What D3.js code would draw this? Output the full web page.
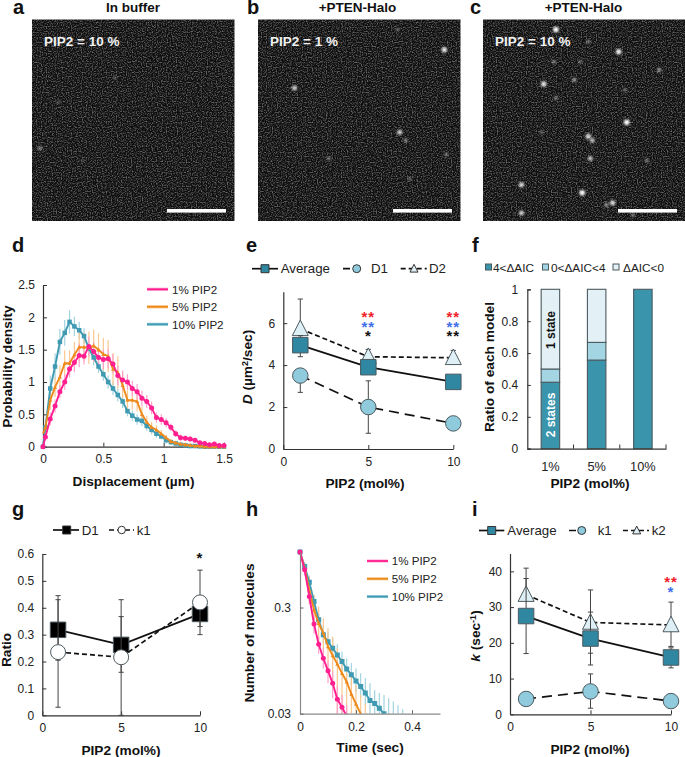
<!DOCTYPE html>
<html><head><meta charset="utf-8">
<script src="https://cdn.jsdelivr.net/npm/d3@7"></script>
<style>
html,body{margin:0;padding:0;background:#fff}
svg{display:block}
text{font-family:"Liberation Sans",Arial,sans-serif;fill:#222}
</style></head><body><div id="c"></div>
<script>
// ---------- data ----------
const percentLabels = ["1% PIP2","5% PIP2","10% PIP2"];
const pipX = [1,5,10];
const spotsA = [[4,64,.5],[41,29,.3],[13,41,.3],[25,70,.2]];
const spotsB = [[92,15,.9],[18,34,.8],[70,56,.8],[73,60,.45],[35,69,.45],[93,67,.45],[69,5,.35],[75,79,.35]];
const spotsC = [[36,5,1],[67,16,.95],[87,25,.55],[30,32,.9],[45,30,.55],[36,39,.45],[71,51,1],[52,58,.85],[54,60,.75],[53,69,.75],[70,35,.4],[19,82,.85],[49,86,1],[64,91,.85],[61,92,.55],[19,96,.8],[74,97,.45],[81,70,.45],[52,11,.45],[48,21,.4],[29,56,.35],[35,21,.45]];
// d
const dispX = [0,.02,.06,.10,.14,.18,.22,.26,.30,.34,.38,.42,.46,.50,.54,.58,.62,.66,.70,.74,.78,.82,.86,.90,.94,.98,1.02,1.06,1.10,1.14,1.18,1.22,1.26,1.30,1.34,1.38,1.42,1.46,1.50];
const disp1 = [0,.15,.43,.63,.85,1.0,1.2,1.3,1.41,1.4,1.55,1.47,1.38,1.35,1.36,1.28,1.1,1.03,1.0,.9,.85,.75,.7,.6,.45,.42,.37,.3,.2,.14,.13,.12,.1,.06,.05,.03,.04,.02,.02];
const disp5 = [.2,.3,.72,.92,1.08,1.29,1.29,1.42,1.54,1.54,1.53,1.56,1.5,1.43,1.4,1.2,1.15,.95,.72,.72,.7,.5,.38,.3,.26,.2,.14,.08,.06,.04,.03,.02,.01,.01,0,0,0,0,0];
const disp10 = [0,.3,.9,1.24,1.62,1.76,1.93,1.86,1.8,1.71,1.52,1.38,1.24,1.12,1.0,.9,.8,.7,.55,.48,.42,.4,.32,.26,.2,.16,.1,.07,.05,.03,.02,.01,.01,.005,0,0,0,0,0];
const disp1Err = [0,.05,.1,.1,.1,.12,.13,.15,.18,.13,.15,.15,.15,.15,.15,.15,.15,.15,.12,.12,.12,.12,.1,.1,.08,.08,.07,.06,.05,.05,.04,.04,.03,.03,.03,.03,.03,.02,.02];
const disp5Err = [0,.05,.15,.15,.18,.2,.2,.2,.22,.22,.25,.25,.25,.25,.25,.25,.25,.2,.15,.15,.15,.12,.1,.08,.07,.06,.05,.04,.03,.03,.02,.02,.01,.01,.01,0,0,0,0];
const disp10Err = [0,.05,.2,.2,.2,.2,.18,.15,.13,.12,.12,.12,.1,.1,.1,.1,.1,.1,.08,.08,.08,.08,.07,.07,.06,.05,.05,.04,.03,.03,.02,.02,.01,.01,0,0,0,0,0];
// e
const dAverage = [4.95,3.9,3.2], dAverageHi=[5.4,null,null], dAverageLo=[4.4,null,null];
const dD1 = [3.5,2.0,1.22], dD1Hi=[null,3.25,null], dD1Lo=[2.7,.75,null];
const dD2 = [5.73,4.4,4.35], dD2Hi=[7.15,4.75,4.7], dD2Lo=[null,null,null];
// f
const ratioCats = ["1%","5%","10%"];
const ratioDark = [.417,.556,1], ratioMid=[.083,.111,0], ratioLight=[.5,.333,0];
const ratioLegend = ["4<ΔAIC","0<ΔAIC<4","ΔAIC<0"];
// g
const gD1 = [.318,.262,.377], gD1Hi=[.445,.367,.42], gD1Lo=[.205,.16,.33];
const gK1 = [.235,.216,.42], gK1Hi=[.43,.43,.54], gK1Lo=[.03,0,.30];
// h
const frameTime = [0,.0167,.0333,.05,.0667,.0833,.1,.1167,.1333,.15,.1667,.1833,.2,.2167,.2333,.25,.2667,.2833,.3,.3167,.3333,.35,.3667];
const surv1 = [1,.68,.381,.21,.135,.10,.076,.058,.041,.0345,.0285];
const surv5 = [1,.705,.44,.285,.213,.172,.129,.106,.088,.072,.06,.046,.037,.03];
const surv10 = [1,.73,.52,.342,.23,.166,.143,.124,.107,.093,.079,.07,.061,.054,.047,.04,.0375,.0337,.03];
const surv1Hi = [1,.75,.45,.25,.16,.125,.095,.075,.055,.045,.036];
const surv1Lo = [1,.6,.32,.17,.11,.08,.058,.042,.03,.03,.03];
const surv5Hi = [1,.75,.588,.395,.306,.238,.191,.16,.124,.1,.083,.07,.056,.045,.0375];
const surv5Lo = [1,.66,.33,.21,.143,.107,.075,.052,.03,.03,.03,.03,.03,.03,.03];
const surv10Hi = [1,.8,.6,.39,.265,.2,.175,.155,.135,.115,.1,.09,.08,.072,.065,.058,.05,.047,.045,.042,.039,.036,.033];
const surv10Lo = [1,.66,.45,.3,.2,.14,.12,.1,.085,.075,.062,.055,.048,.042,.036,.03,.03,.03,.03,.03,.03,.03,.03];
// i
const kAverage = [27.5,21.2,15.9], kAverageHi=[38,28.6,18.6], kAverageLo=[17,17.1,13];
const kK1 = [4.3,6.4,3.7], kK1Hi=[null,11.3,null], kK1Lo=[null,1.7,null];
const kK2 = [33.5,25.7,25], kK2Hi=[40.9,34.8,31.4], kK2Lo=[null,13.8,19];

// ---------- colours ----------
const PINK="#ff1f8f", ORANGE="#ee8a1c", TEAL="#3f9ab2";
const PINKL="#ff9fcf", ORANGEL="#f9c88f", TEALL="#a0d2df";
const SQ="#2f87a1", CI="#8fcbdd", TR="#deeff5", MK="#4d5a60";
const FONT=12;

const svg=d3.select("#c").append("svg").attr("width",685).attr("height",757).attr("viewBox","0 0 685 757");
const defs=svg.append("defs");

function txt(x,y,s,o={}){
  const t=svg.append("text").attr("x",x).attr("y",y).text(s)
    .style("font-size",(o.size||FONT)+"px").style("font-weight",o.bold?"bold":"normal")
    .attr("text-anchor",o.anchor||"start").style("fill",o.fill||"#222");
  if(o.rot!=null) t.attr("transform",`rotate(${o.rot} ${x} ${y})`);
  return t;
}
const letters=[["a",13,14],["b",247,14],["c",470,14],["d",12,252],["e",246,252],["f",472,252],["g",12,516],["h",246,516],["i",472,516]];
letters.forEach(l=>txt(l[1],l[2],l[0],{size:20,bold:true,fill:"#111"}));

// ---------- microscopy panels ----------
const speck=defs.append("filter").attr("id","speck").attr("x",0).attr("y",0).attr("width","100%").attr("height","100%").attr("color-interpolation-filters","sRGB");
speck.append("feTurbulence").attr("type","fractalNoise").attr("baseFrequency",.8).attr("numOctaves",1).attr("seed",11).attr("result","n");
speck.append("feColorMatrix").attr("type","matrix").attr("values","0 0 0 0 1  0 0 0 0 1  0 0 0 0 1  3 0 0 0 -1.3");
speck.append("feGaussianBlur").attr("stdDeviation",.45);
const glow=defs.append("filter").attr("id","glow").attr("x","-100%").attr("y","-100%").attr("width","300%").attr("height","300%");
glow.append("feGaussianBlur").attr("stdDeviation",1.1);
function micro(x0,spots,title,label,tx){
  const sx=d3.scaleLinear().domain([0,100]).range([x0,x0+202.5]);
  const sy=d3.scaleLinear().domain([0,100]).range([19.5,221]);
  const g=svg.append("g");
  g.append("rect").attr("x",sx(0)).attr("y",sy(0)).attr("width",202.5).attr("height",201.5).attr("fill","#0e0e0e");
  g.append("rect").attr("x",sx(0)).attr("y",sy(0)).attr("width",202.5).attr("height",201.5).attr("fill","#000").attr("opacity",.38).attr("filter","url(#speck)");
  g.selectAll("circle").data(spots).join("circle").attr("cx",d=>sx(d[0])).attr("cy",d=>sy(d[1]))
    .attr("r",d=>1.4+d[2]*1.4).attr("fill","#fff").attr("opacity",d=>d[2]).attr("filter","url(#glow)");
  g.append("rect").attr("x",x0+135).attr("y",209).attr("width",59).attr("height",3.6).attr("fill","#fff");
  txt(x0+12,45.7,label,{size:13.5,bold:true,fill:"#f2f2f2"});
  txt(tx,11.5,title,{size:13.5,bold:true,anchor:"middle",fill:"#111"});
}
micro(32,spotsA,"In buffer","PIP2 = 10 %",133);
micro(258,spotsB,"+PTEN-Halo","PIP2 = 1  %",357.5);
micro(483,spotsC,"+PTEN-Halo","PIP2 = 10 %",583.5);

// ---------- helpers ----------
function axes(x,y,o={}){
  const col=o.col||"#333";
  const xa=svg.append("g").attr("transform",`translate(0,${y.range()[0]})`)
    .call(d3.axisBottom(x).tickValues(o.xt).tickFormat(o.xf||(d=>d)).tickSize(-4).tickPadding(8).tickSizeOuter(0));
  const ya=svg.append("g").attr("transform",`translate(${x.range()[0]},0)`)
    .call(d3.axisLeft(y).tickValues(o.yt).tickFormat(o.yf||(d=>d)).tickSize(-4).tickPadding(8).tickSizeOuter(0));
  [xa,ya].forEach(a=>{a.selectAll("path").attr("stroke",col).attr("stroke-width",1.2);
    a.selectAll("line").attr("stroke",col).attr("stroke-width",1);
    a.selectAll("text").style("font-size",FONT+"px").style("fill","#222").style("font-family",'"Liberation Sans"');});
}
function title(xT,xx,xy,yT,yx,yy){
  txt(xx,xy,xT,{size:13.7,bold:true,anchor:"middle",fill:"#111"});
  if(typeof yT==="string") txt(yx,yy,yT,{size:13.7,bold:true,anchor:"middle",rot:-90,fill:"#111"});
}
function errBars(x,y,vals,ends,cap){
  ends.forEach((e,i)=>{
    if(e==null) return;
    const px=x(pipX[i]);
    svg.append("line").attr("x1",px).attr("x2",px).attr("y1",y(e)).attr("y2",y(vals[i])).attr("stroke","#444").attr("stroke-width",1);
    svg.append("line").attr("x1",px-cap).attr("x2",px+cap).attr("y1",y(e)).attr("y2",y(e)).attr("stroke","#444").attr("stroke-width",1);
  });
}
function series(x,y,vals,hi,lo,dash,shape,fill,lineW,mk){
  const pts=vals.map((v,i)=>[pipX[i],v]);
  errBars(x,y,vals,hi,2.6); errBars(x,y,vals,lo,2.6);
  svg.append("path").attr("d",d3.line().x(d=>x(d[0])).y(d=>y(d[1]))(pts)).attr("fill","none")
    .attr("stroke","#111").attr("stroke-width",lineW||1.7).attr("stroke-dasharray",dash||null);
  marks(x,y,pts,shape,fill,mk||15,MK,1);
}
function marks(x,y,pts,shape,fill,size,stroke,sw){
  return svg.append("g").selectAll("path").data(pts).join("path")
    .attr("transform",d=>`translate(${x(d[0])},${y(d[1])})`).attr("fill",fill).attr("stroke",stroke).attr("stroke-width",sw)
    .attr("d",shapePath(shape,size));
}
function shapePath(shape,s){
  if(shape==="sq") return `M${-s/2},${-s/2}H${s/2}V${s/2}H${-s/2}Z`;
  if(shape==="ci") return d3.arc()({innerRadius:0,outerRadius:s/2,startAngle:0,endAngle:7});
  const r=s/2; return `M0,${-r*1.1}L${r},${r*.85}H${-r}Z`;
}
function legendLine(x1,x2,y,dash,shape,fill,size,label,lx,mx){
  svg.append("line").attr("x1",x1).attr("x2",x2).attr("y1",y).attr("y2",y).attr("stroke","#111").attr("stroke-width",1.7).attr("stroke-dasharray",dash||null);
  svg.append("path").attr("transform",`translate(${mx},${y})`).attr("d",shapePath(shape,size)).attr("fill",fill).attr("stroke","#333").attr("stroke-width",1);
  txt(lx,y+4.7,label,{size:13.3});
}
function stars(x,y,s,col){ txt(x,y,s,{size:15,bold:true,anchor:"middle",fill:col}).style("letter-spacing","1px"); }

// ---------- panel d ----------
{
  const x=d3.scaleLinear().domain([0,1.5]).range([43,224]);
  const y=d3.scaleLinear().domain([0,2.5]).range([446.7,285]);
  axes(x,y,{xt:[0,.5,1,1.5],yt:[0,.5,1,1.5,2,2.5]});
  const sets=[[disp10,disp10Err,TEAL,TEALL,"sq",4.5],[disp5,disp5Err,ORANGE,ORANGEL,"tr",4],[disp1,disp1Err,PINK,PINKL,"ci",5]];
  sets.forEach(s=>{
    svg.append("g").selectAll("line").data(dispX).join("line").attr("x1",d=>x(d)).attr("x2",d=>x(d))
      .attr("y1",(d,i)=>y(s[0][i]+s[1][i])).attr("y2",(d,i)=>y(Math.max(0,s[0][i]-s[1][i]))).attr("stroke",s[3]).attr("stroke-width",1.2);
  });
  sets.forEach(s=>{
    const pts=dispX.map((d,i)=>[d,s[0][i]]);
    svg.append("path").attr("d",d3.line().x(d=>x(d[0])).y(d=>y(d[1]))(pts)).attr("fill","none").attr("stroke",s[2]).attr("stroke-width",1.9);
    marks(x,y,pts.slice(s[4]==="tr"?1:0),s[4],s[2],s[5],"none",0);
  });
  percentLabels.forEach((l,i)=>{
    const yy=289.3+i*17.5, c=[PINK,ORANGE,TEAL][i], c2=[PINKL,ORANGEL,TEALL][i];
    svg.append("line").attr("x1",147).attr("x2",168).attr("y1",yy).attr("y2",yy).attr("stroke",c2).attr("stroke-width",3.2);
    svg.append("line").attr("x1",147).attr("x2",168).attr("y1",yy).attr("y2",yy).attr("stroke",c).attr("stroke-width",1.8);
    txt(172,yy+4.2,l,{size:11.6});
  });
  title("Displacement (µm)",133.5,485.5,"Probability density",12,366.5);
}
// ---------- panel e ----------
{
  const x=d3.scaleLinear().domain([0,10]).range([283.3,453.3]);
  const y=d3.scaleLinear().domain([0,7.5]).range([449,291.7]);
  axes(x,y,{xt:[0,5,10],yt:[0,2,4,6]});
  series(x,y,dD2,dD2Hi,dD2Lo,"5 3","tr",TR,1.7,16);
  series(x,y,dD1,dD1Hi,dD1Lo,"10 6","ci",CI,1.7,15.5);
  series(x,y,dAverage,dAverageHi,dAverageLo,null,"sq",SQ,1.8,15.5);
  [[5,"**","**","*"],[10,"**","**","**"]].forEach(r=>{
    stars(x(r[0]),322,r[1],"#f0202a"); stars(x(r[0]),331.5,r[2],"#3f6fe8"); stars(x(r[0]),341,r[3],"#111");
  });
  legendLine(252,278,268.7,null,"sq",SQ,8,"Average",280.7,265);
  legendLine(343,361,268.7,"7 4","ci",CI,8,"D1",371,356.7);
  legendLine(400.7,426.7,268.7,"5 3","tr",TR,8,"D2",429,414);
  title("PIP2 (mol%)",365,487.5,null);
  const yl=svg.append("text").attr("transform","translate(252,367) rotate(-90)").attr("text-anchor","middle")
    .style("font-size","13.7px").style("font-weight","bold").style("fill","#111");
  yl.append("tspan").text("D").style("font-style","italic");
  yl.append("tspan").text(" (µm");
  yl.append("tspan").text("2").attr("dy",-4).style("font-size","9px");
  yl.append("tspan").text("/sec)").attr("dy",4);
}
// ---------- panel f ----------
{
  const x=d3.scaleBand().domain(ratioCats).range([527.3,666]).paddingInner(0.6).paddingOuter(0.3);
  const y=d3.scaleLinear().domain([0,1]).range([448.7,289.3]);
  const stack=d3.stack().keys([0,1,2]).value((d,k)=>d[k+1]);
  const rows=ratioCats.map((c,i)=>[c,ratioDark[i],ratioMid[i],ratioLight[i]]);
  const fills=["#3a94ab","#a3d5e3","#e3f1f6"];
  stack(rows).forEach((ser,k)=>{
    svg.append("g").selectAll("rect").data(ser).join("rect")
      .attr("x",d=>x(d.data[0])).attr("width",x.bandwidth())
      .attr("y",d=>y(d[1])).attr("height",d=>y(d[0])-y(d[1]))
      .attr("fill",fills[k]).attr("stroke","#4a5a5f").attr("stroke-width",d=>d[1]-d[0]>0?1.1:0);
  });
  const xa=svg.append("g").attr("transform","translate(0,448.7)").call(d3.axisBottom(x).tickSize(0).tickPadding(13));
  xa.selectAll("path").attr("stroke","#333").attr("stroke-width",1.2);
  xa.selectAll("text").style("font-size","12.8px").style("font-family",'"Liberation Sans"').style("fill","#222");
  const xt=d3.scaleLinear().domain([0,3]).range([527.3,666]);
  svg.append("g").selectAll("line").data([1,2,3]).join("line").attr("x1",d=>xt(d)).attr("x2",d=>xt(d)).attr("y1",448.7).attr("y2",444.5).attr("stroke","#333");
  const ya=svg.append("g").attr("transform","translate(527.3,0)").call(d3.axisLeft(y).tickValues([0,.2,.4,.6,.8,1]).tickFormat(d=>d).tickSize(-3.5).tickPadding(9));
  ya.selectAll("path").attr("stroke","#333").attr("stroke-width",1.2);
  ya.selectAll("line").attr("stroke","#333");
  ya.selectAll("text").style("font-size",FONT+"px").style("font-family",'"Liberation Sans"').style("fill","#222");
  txt(x("1%")+x.bandwidth()/2+4.5,330,"1 state",{size:12,bold:true,anchor:"middle",rot:-90,fill:"#111"});
  txt(x("1%")+x.bandwidth()/2+4.5,415,"2 states",{size:12,bold:true,anchor:"middle",rot:-90,fill:"#fff"});
  const lx=[485.5,542.5,613],tx=[493,551,623];
  ratioLegend.forEach((l,i)=>{
    svg.append("rect").attr("x",lx[i]).attr("y",264).attr("width",6).attr("height",6).attr("fill",fills[i]).attr("stroke","#4a5a5f");
    txt(tx[i],271.5,l,{size:11.8});
  });
  title("PIP2 (mol%)",590,488,"Ratio of each model",494,367);
}
// ---------- panel g ----------
{
  const x=d3.scaleLinear().domain([0,10]).range([42.3,200]);
  const y=d3.scaleLinear().domain([0,.6]).range([715.3,554]);
  axes(x,y,{xt:[0,5,10],yt:[0,.1,.2,.3,.4,.5,.6]});
  series(x,y,gD1,gD1Hi,gD1Lo,null,"sq","#000",1.8,15.5);
  series(x,y,gK1,gK1Hi,gK1Lo,"5 3","ci","#fff",1.7,15);
  stars(x(10),563,"*","#111");
  legendLine(53,79,530,null,"sq","#000",8,"D1",81.7,66.7);
  legendLine(109,134,530,"5 3","ci","#fff",7.5,"k1",136.7,121.7);
  title("PIP2 (mol%)",121,754.5,"Ratio",10.5,650);
}
// ---------- panel h ----------
{
  const x=d3.scaleLinear().domain([0,.5]).range([300,440]);
  const y=d3.scaleLog().domain([.03,1]).range([713.7,552]);
  const cp=defs.append("clipPath").attr("id","hclip");
  cp.append("rect").attr("x",297).attr("y",545).attr("width",143).attr("height",713.7-545);
  const plot=svg.append("g").attr("clip-path","url(#hclip)");
  const sets=[[surv10,surv10Hi,surv10Lo,TEAL,TEALL,"sq",5],[surv5,surv5Hi,surv5Lo,ORANGE,ORANGEL,"tr",4],[surv1,surv1Hi,surv1Lo,PINK,PINKL,"ci",5]];
  sets.forEach(s=>{
    plot.append("g").selectAll("line").data(s[1]).join("line")
      .attr("x1",(d,i)=>x(frameTime[i])).attr("x2",(d,i)=>x(frameTime[i]))
      .attr("y1",d=>y(d)).attr("y2",(d,i)=>y(s[2][i])).attr("stroke",s[4]).attr("stroke-width",1.2);
  });
  sets.forEach(s=>{
    const pts=s[0].map((v,i)=>[frameTime[i],v]);
    plot.append("path").attr("d",d3.line().x(d=>x(d[0])).y(d=>y(d[1]))(pts)).attr("fill","none").attr("stroke",s[3]).attr("stroke-width",1.9);
    plot.append("g").selectAll("path").data(pts).join("path").attr("transform",d=>`translate(${x(d[0])},${y(d[1])})`)
      .attr("d",shapePath(s[5],s[6])).attr("fill",s[3]);
  });
  const xa=svg.append("g").attr("transform","translate(0,713.7)").call(d3.axisBottom(x).tickValues([0,.2,.4]).tickFormat(d=>d).tickSize(-3.5).tickPadding(9).tickSizeOuter(0));
  const ya=svg.append("g").attr("transform","translate(300,0)").call(d3.axisLeft(y).tickValues([.03,.3]).tickFormat(d=>d).tickSize(-3.5).tickPadding(9).tickSizeOuter(0));
  [xa,ya].forEach(a=>{a.selectAll("path").attr("stroke","#888").attr("stroke-width",1.2);
    a.selectAll("line").attr("stroke","#666");
    a.selectAll("text").style("font-size",FONT+"px").style("font-family",'"Liberation Sans"').style("fill","#222");});
  percentLabels.forEach((l,i)=>{
    const yy=561+i*17.8, c=[PINK,ORANGE,TEAL][i], c2=[PINKL,ORANGEL,TEALL][i];
    svg.append("line").attr("x1",367).attr("x2",388).attr("y1",yy).attr("y2",yy).attr("stroke",c2).attr("stroke-width",3);
    svg.append("line").attr("x1",367).attr("x2",388).attr("y1",yy).attr("y2",yy).attr("stroke",c).attr("stroke-width",1.8);
    txt(391.7,yy+4.2,l,{size:11.6});
  });
  title("Time (sec)",370,752,"Number of molecules",254,633);
}
// ---------- panel i ----------
{
  const x=d3.scaleLinear().domain([0,10]).range([510,671]);
  const y=d3.scaleLinear().domain([0,45]).range([714.3,553.5]);
  axes(x,y,{xt:[0,5,10],yt:[0,10,20,30,40]});
  series(x,y,kK2,kK2Hi,kK2Lo,"5 3","tr",TR,1.7,16);
  series(x,y,kK1,kK1Hi,kK1Lo,"10 6","ci",CI,1.7,15.5);
  series(x,y,kAverage,kAverageHi,kAverageLo,null,"sq",SQ,1.8,15.5);
  stars(x(10),587,"**","#f0202a"); stars(x(10),596.5,"*","#3f6fe8");
  legendLine(479,504.3,530.5,null,"sq",SQ,8,"Average",507.3,491.7);
  legendLine(569,586,530.5,"7 4","ci",CI,8,"k1",597.7,581.7);
  legendLine(623,649,530.5,"5 3","tr",TR,8,"k2",651.7,636.7);
  title("PIP2 (mol%)",590,753.5,null);
  const yl=svg.append("text").attr("transform","translate(480,636) rotate(-90)").attr("text-anchor","middle")
    .style("font-size","13.7px").style("font-weight","bold").style("fill","#111");
  yl.append("tspan").text("k").style("font-style","italic");
  yl.append("tspan").text(" (sec");
  yl.append("tspan").text("-1").attr("dy",-4).style("font-size","9px");
  yl.append("tspan").text(")").attr("dy",4);
}
</script></body></html>
